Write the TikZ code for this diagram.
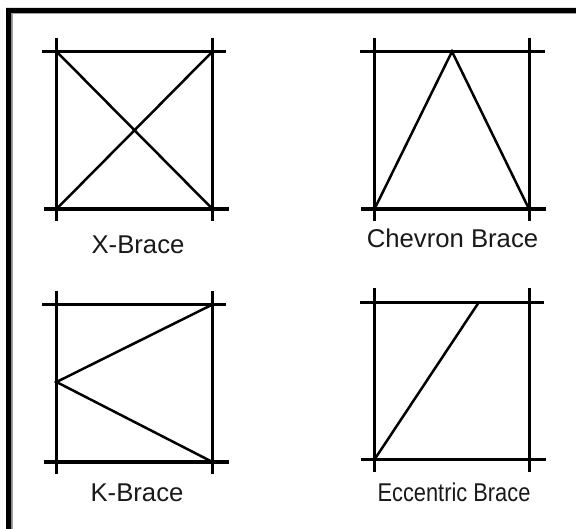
\documentclass[tikz,border=0pt]{standalone}
\usepackage{fontspec}
\setmainfont{Liberation Sans}
\newfontfamily\narrowfont[FakeStretch=0.85]{Liberation Sans}
\usetikzlibrary{positioning}
\definecolor{frameGray}{HTML}{A0A0A0}

\begin{document}
\begin{tikzpicture}[
    x=1pt, y=-1pt,
    beam/.style={line width=2.7pt},
    beamHeavy/.style={line width=4pt},
    column/.style={line width=3pt},
    brace/.style={line width=2.5pt},
    lbl/.style={inner sep=0pt, font=\fontsize{25.7}{28}\selectfont, text=black!90},
  ]
    \useasboundingbox (0,0) rectangle (576,529);

    % frame
    \fill[white] (0,0) rectangle (576,529);
    \fill[frameGray] (11,13) rectangle (12.5,529);
    \fill[frameGray] (11,13) rectangle (576,14);
    \fill[black] (6,529) -- (6,8) -- (576,8) -- (576,13) -- (11,13) -- (11,529) -- cycle;

    % x brace
    \coordinate (xTL) at (56.5,51.5);
    \coordinate (xTR) at (212.5,51.5);
    \coordinate (xBL) at (56.5,209);
    \coordinate (xBR) at (212.5,209);
    \draw[column] (56.5,38) -- (56.5,221);
    \draw[column] (212.5,38) -- (212.5,221);
    \draw[beam] (42,51.5) -- (226,51.5);
    \draw[beamHeavy] (44,209) -- (229,209);
    \draw[brace] (xTL) -- (xBR);
    \draw[brace] (xBL) -- (xTR);
    \node[lbl] (xLabel) at (138,244.5) {X-Brace};

    % chevron brace
    \coordinate (cTM) at (452,51.5);
    \coordinate (cBL) at (374.5,209);
    \coordinate (cBR) at (529,209);
    \draw[column] (374.5,38) -- (374.5,221);
    \draw[column] (529.5,38) -- (529.5,221);
    \draw[beam] (360,51.5) -- (545,51.5);
    \draw[beamHeavy] (361,209) -- (546,209);
    \draw[brace] (cBL) -- (cTM) -- (cBR);
    \node[lbl] (cLabel) at (452.5,238.5) {Chevron Brace};

    % k brace
    \coordinate (kTR) at (212.5,304.5);
    \coordinate (kML) at (56.5,382);
    \coordinate (kBR) at (212.5,462);
    \draw[column] (56.5,291) -- (56.5,474);
    \draw[column] (212.5,291) -- (212.5,474);
    \draw[beam] (42,304.5) -- (226,304.5);
    \draw[beamHeavy] (44,462) -- (229,462);
    \draw[brace] (kTR) -- (kML) -- (kBR);
    \node[lbl] (kLabel) at (137,492.5) {K-Brace};

    % eccentric brace
    \coordinate (eTR) at (479,302);
    \coordinate (eBL) at (374.5,459.5);
    \draw[column] (374.5,288) -- (374.5,472);
    \draw[column] (529.5,288) -- (529.5,472);
    \draw[beam] (360,302.5) -- (544,302.5);
    \draw[beam] (361,459.5) -- (546,459.5);
    \draw[brace] (eBL) -- (eTR);
    \node[lbl, font=\narrowfont\fontsize{25.7}{28}\selectfont] (eLabel) at (454,492.5) {Eccentric Brace};
  \end{tikzpicture}
\end{document}
